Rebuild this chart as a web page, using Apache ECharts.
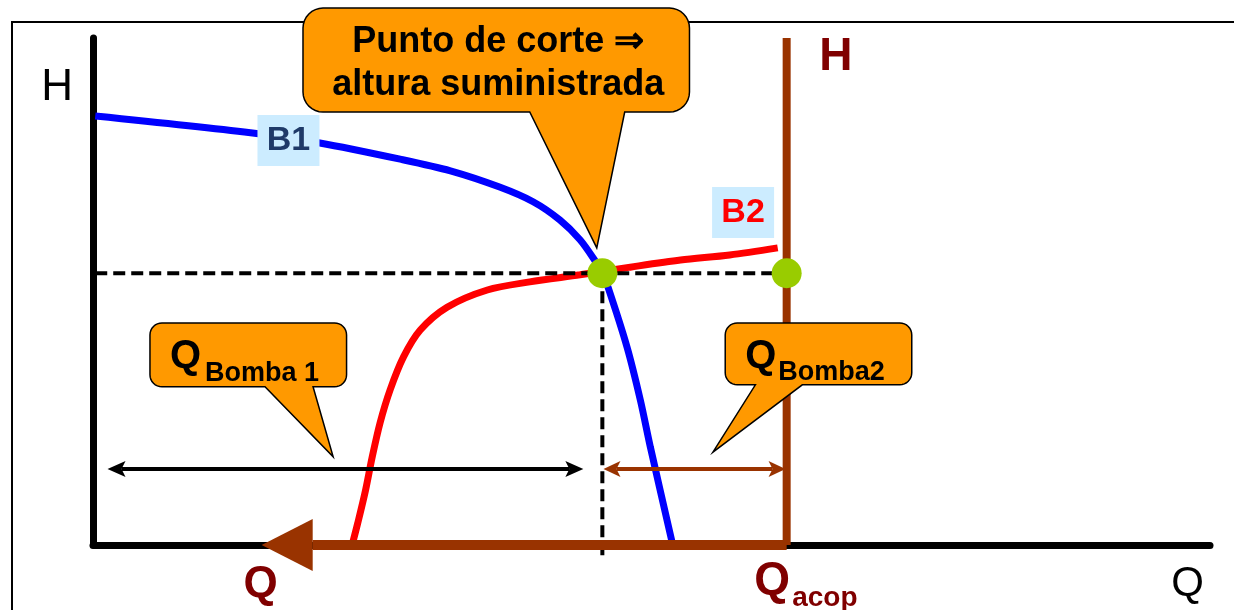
<!DOCTYPE html>
<html>
<head>
<meta charset="utf-8">
<title>Bombas en paralelo - punto de corte</title>
<script src="https://cdn.jsdelivr.net/npm/echarts@6/dist/echarts.min.js"></script>
<style>
  html, body { margin: 0; padding: 0; background: #fff; }
  #main { width: 1234px; height: 610px; }
</style>
</head>
<body>
<div id="main"></div>
<script>
// curva de la bomba 1 (caudal Q, altura H)
var b1Q = [0.2, 14.1, 20.3, 27.5, 32.0, 36.4, 39.4, 41.8, 43.6, 44.9, 45.6, 46.1, 47.8, 49.0, 49.9, 51.9];
var b1H = [84.6, 81.3, 79.3, 76.1, 73.8, 70.6, 67.7, 64.1, 60.2, 56.2, 53.6, 50.9, 39.1, 28.6, 19.3, 0];
// curva de la bomba 2 (medida desde Qacop hacia la izquierda)
var b2Q = [23.2, 23.7, 24.4, 25.0, 25.7, 26.6, 27.8, 29.3, 31.7, 35.3, 39.1, 43.6, 48.1, 52.6, 57.0, 61.3];
var b2H = [0, 4.3, 10.8, 17.4, 24.1, 30.6, 37.1, 42.4, 46.9, 50.3, 51.9, 53.3, 54.8, 56.2, 57.2, 58.6];

var corte = [45.6, 53.6];   // punto de corte
var qAcop = 62.1;           // caudal acoplado

// cotas: [Q1, H1, Q2, H2]
var cotaQ1 = [1.3, 15.0, 43.9, 15.0];
var cotaQ2 = [45.7, 15.0, 62.0, 15.0];
var flechaQ = [qAcop, 0, 15.1, 0];

// globos: [Qizq, Hsup, Qder, Hinf, baseA, baseB, puntaQ, puntaH]
var globoCorte = [18.8, 105.9, 53.4, 85.4, 39.1, 47.6, 45.1, 58.6];
var globoQ1 = [5.1, 43.8, 22.7, 31.2, 15.4, 19.7, 21.5, 17.4];
var globoQ2 = [56.6, 43.8, 73.3, 31.6, 59.3, 63.5, 55.5, 18.3];

// etiquetas [Q, H]
var etiquetasPos = [[-3.2, 90.1], [66.5, 96.1], [15.0, -7.9], [98.0, -7.7]];
var etiquetasTxt = ['H', 'H', 'Q', 'Q'];
var qAcopPos = [[60.8, -7.1]];
var curvasPos = [[17.5, 79.9], [58.2, 65.7]];
var curvasTxt = ['B1', 'B2'];

var FONT = 'Liberation Sans, Arial, sans-serif';
var MARRON = '#993300';

function zip(a, b) {
  var out = [];
  for (var i = 0; i < a.length; i++) out.push([a[i], b[i]]);
  return out;
}

function arco(pts, cx, cy, r, a0, a1) {
  for (var k = 0; k <= 8; k++) {
    var a = (a0 + (a1 - a0) * k / 8) * Math.PI / 180;
    pts.push([cx + r * Math.cos(a), cy + r * Math.sin(a)]);
  }
}

function globo(radio, textos) {
  return function (params, api) {
    var tl = api.coord([api.value(0), api.value(1)]);
    var br = api.coord([api.value(2), api.value(3)]);
    var ba = api.coord([api.value(4), api.value(3)])[0];
    var bb = api.coord([api.value(5), api.value(3)])[0];
    var tip = api.coord([api.value(6), api.value(7)]);
    var x1 = tl[0], y1 = tl[1], x2 = br[0], y2 = br[1], r = radio;
    var pts = [];
    arco(pts, x2 - r, y1 + r, r, -90, 0);
    arco(pts, x2 - r, y2 - r, r, 0, 90);
    pts.push([bb, y2], tip, [ba, y2]);
    arco(pts, x1 + r, y2 - r, r, 90, 180);
    arco(pts, x1 + r, y1 + r, r, 180, 270);
    var children = [{
      type: 'polygon',
      shape: { points: pts },
      style: { fill: '#ff9900', stroke: '#000', lineWidth: 1.5 }
    }];
    textos(x1, y1, x2, y2).forEach(function (t) { children.push(t); });
    return { type: 'group', children: children };
  };
}

function texto(x, y, txt, font, color, align, extra) {
  var st = { text: txt, font: font, fill: color, align: align || 'center', verticalAlign: 'middle' };
  if (extra) for (var k in extra) st[k] = extra[k];
  return { type: 'text', x: x, y: y, style: st };
}

function flecha(color, ancho, largo, semi, muesca, ambas) {
  return function (params, api) {
    var p1 = api.coord([api.value(0), api.value(1)]);
    var p2 = api.coord([api.value(2), api.value(3)]);
    var dx = p2[0] - p1[0], dy = p2[1] - p1[1];
    var len = Math.sqrt(dx * dx + dy * dy);
    var ux = dx / len, uy = dy / len, nx = -uy, ny = ux;
    function cabeza(p, sx, sy) {
      var bx = p[0] - sx * largo, by = p[1] - sy * largo;
      return {
        type: 'polygon',
        shape: { points: [[p[0], p[1]], [bx + nx * semi, by + ny * semi],
          [p[0] - sx * (largo - muesca), p[1] - sy * (largo - muesca)], [bx - nx * semi, by - ny * semi]] },
        style: { fill: color }
      };
    }
    var d = largo - muesca;
    var a = ambas ? [p1[0] + ux * d, p1[1] + uy * d] : p1;
    var b = [p2[0] - ux * d, p2[1] - uy * d];
    var children = [{
      type: 'line',
      shape: { x1: a[0], y1: a[1], x2: b[0], y2: b[1] },
      style: { stroke: color, lineWidth: ancho }
    }, cabeza(p2, ux, uy)];
    if (ambas) children.push(cabeza(p1, -ux, -uy));
    return { type: 'group', children: children };
  };
}

var myChart = echarts.init(document.getElementById('main'));

var option = {
  animation: false,
  backgroundColor: '#fff',
  graphic: [{
    type: 'rect', z: 0,
    shape: { x: 12, y: 22, width: 1300, height: 700 },
    style: { fill: 'none', stroke: '#000', lineWidth: 2 }
  }],
  grid: { left: 93, right: 24, top: 38, bottom: 65 },
  xAxis: {
    type: 'value', min: 0, max: 100,
    axisLine: { show: true, onZero: false, lineStyle: { color: '#000', width: 7 } },
    axisTick: { show: false }, axisLabel: { show: false }, splitLine: { show: false }
  },
  yAxis: {
    type: 'value', min: 0, max: 100,
    axisLine: { show: true, lineStyle: { color: '#000', width: 7 } },
    axisTick: { show: false }, axisLabel: { show: false }, splitLine: { show: false }
  },
  series: [
    {
      name: 'B2', type: 'line', data: zip(b2Q, b2H), smooth: 0.3, showSymbol: false,
      lineStyle: { color: '#ff0000', width: 7 }, z: 3
    },
    {
      name: 'B1', type: 'line', data: zip(b1Q, b1H), smooth: 0.3, showSymbol: false,
      lineStyle: { color: '#0000ff', width: 7 }, z: 4
    },
    {
      name: 'altura', type: 'line', showSymbol: false, clip: false, z: 5,
      data: [[0.2, corte[1]], [qAcop, corte[1]]],
      lineStyle: { color: '#000', width: 4, type: [12, 6] }
    },
    {
      name: 'caudal', type: 'line', showSymbol: false, clip: false, z: 5,
      data: [[corte[0], corte[1]], [corte[0], -2]],
      lineStyle: { color: '#000', width: 4, type: [12, 6] }
    },
    {
      name: 'eje acop', type: 'line', showSymbol: false, z: 5,
      data: [[qAcop, 0], [qAcop, 100]],
      lineStyle: { color: MARRON, width: 8 }
    },
    { type: 'custom', clip: false, z: 6, data: [flechaQ], renderItem: flecha(MARRON, 10, 51, 26, 0, false) },
    { type: 'custom', clip: false, z: 6, data: [cotaQ1], renderItem: flecha('#000', 4, 18, 8, 4, true) },
    { type: 'custom', clip: false, z: 6, data: [cotaQ2], renderItem: flecha(MARRON, 4, 17, 8, 4, true) },
    {
      name: 'puntos', type: 'scatter', z: 7, symbolSize: 30,
      data: [corte, [qAcop, corte[1]]],
      itemStyle: { color: '#99cc00', opacity: 1 }
    },
    {
      type: 'custom', clip: false, z: 8, data: [globoCorte],
      renderItem: globo(20, function (x1, y1, x2, y2) {
        return [texto((x1 + x2) / 2 + 2, (y1 + y2) / 2 + 4, 'Punto de corte \u21D2\naltura suministrada',
          'bold 36px ' + FONT, '#000', 'center', { lineHeight: 43 })];
      })
    },
    {
      type: 'custom', clip: false, z: 8, data: [globoQ1],
      renderItem: globo(12, function (x1, y1) {
        return [texto(x1 + 20, y1 + 34, 'Q', 'bold 40px ' + FONT, '#000', 'left'),
                texto(x1 + 55, y1 + 51, 'Bomba 1', 'bold 27px ' + FONT, '#000', 'left')];
      })
    },
    {
      type: 'custom', clip: false, z: 8, data: [globoQ2],
      renderItem: globo(12, function (x1, y1) {
        return [texto(x1 + 20, y1 + 34, 'Q', 'bold 40px ' + FONT, '#000', 'left'),
                texto(x1 + 53, y1 + 50, 'Bomba2', 'bold 27px ' + FONT, '#000', 'left')];
      })
    },
    {
      type: 'custom', clip: false, z: 8, data: curvasPos,
      renderItem: function (params, api) {
        var p = api.coord([api.value(0), api.value(1)]);
        var i = params.dataIndex;
        return {
          type: 'group', children: [
            { type: 'rect', shape: { x: p[0] - 31, y: p[1] - 25, width: 62, height: 51 }, style: { fill: '#ccecff' } },
            texto(p[0], p[1] + 1, curvasTxt[i], 'bold 34px ' + FONT, i === 0 ? '#1f3a68' : '#ff0000', 'center')
          ]
        };
      }
    },
    {
      type: 'custom', clip: false, z: 8, data: etiquetasPos,
      renderItem: function (params, api) {
        var p = api.coord([api.value(0), api.value(1)]);
        var i = params.dataIndex;
        var estilos = [
          ['44px ' + FONT, '#000'],
          ['bold 46px ' + FONT, '#800000'],
          ['bold 44px ' + FONT, '#800000'],
          ['42px ' + FONT, '#000']
        ];
        return texto(p[0], p[1], etiquetasTxt[i], estilos[i][0], estilos[i][1], 'center');
      }
    },
    {
      type: 'custom', clip: false, z: 8, data: qAcopPos,
      renderItem: function (params, api) {
        var p = api.coord([api.value(0), api.value(1)]);
        return {
          type: 'group', children: [
            texto(p[0], p[1], 'Q', 'bold 46px ' + FONT, '#800000', 'center'),
            texto(p[0] + 20, p[1] + 17, 'acop', 'bold 28px ' + FONT, '#800000', 'left')
          ]
        };
      }
    }
  ]
};

myChart.setOption(option);
</script>
</body>
</html>
